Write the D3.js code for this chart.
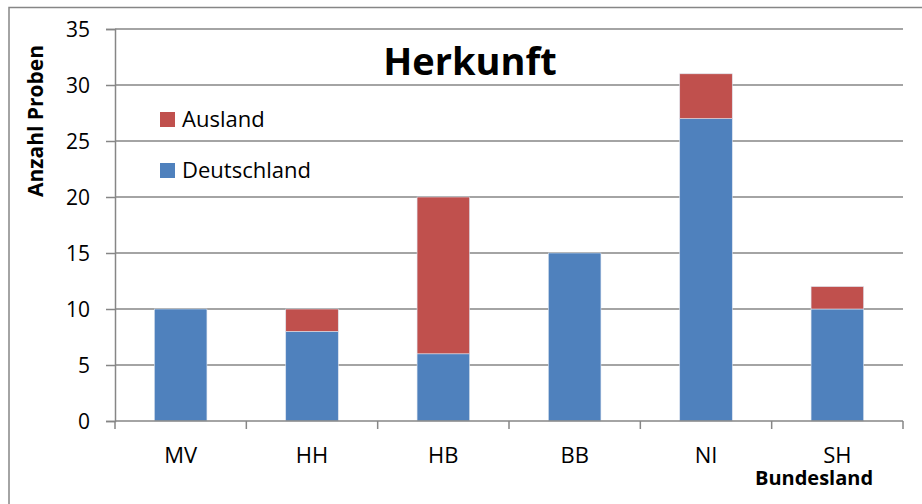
<!DOCTYPE html>
<html>
<head>
<meta charset="utf-8">
<script src="https://cdn.jsdelivr.net/npm/d3@7"></script>
<style>
  body { margin: 0; background: #fff; }
  svg { display: block; font-family: "Open Sans", "Noto Sans", sans-serif; }
</style>
</head>
<body>
<div id="chart"></div>
<script>
const categories = ['MV', 'HH', 'HB', 'BB', 'NI', 'SH'];
const deutschland = [10, 8, 6, 15, 27, 10];
const ausland = [0, 2, 14, 0, 4, 2];
const seriesNames = ['Deutschland', 'Ausland'];
const seriesColors = ['#4F81BD', '#C0504D'];
const yTicks = [0, 5, 10, 15, 20, 25, 30, 35];

const width = 922, height = 504;
const margin = { top: 29, right: 19, bottom: 83, left: 115 };

const svg = d3.select('#chart').append('svg')
  .attr('width', width)
  .attr('height', height);

// outer frame (only top and left visible in the shot)
svg.append('rect')
  .attr('x', 9).attr('y', 7.5)
  .attr('width', width).attr('height', height)
  .attr('fill', 'none')
  .attr('stroke', '#868686')
  .attr('stroke-width', 1.5);

const x = d3.scaleBand()
  .domain(categories)
  .range([margin.left, width - margin.right])
  .paddingInner(0.6)
  .paddingOuter(0.3);

const y = d3.scaleLinear()
  .domain([0, 35])
  .range([height - margin.bottom, margin.top]);

// gridlines
svg.append('g')
  .selectAll('line')
  .data(yTicks.filter(d => d > 0))
  .join('line')
  .attr('x1', margin.left).attr('x2', width - margin.right)
  .attr('y1', d => y(d)).attr('y2', d => y(d))
  .attr('stroke', '#868686')
  .attr('stroke-width', 1.5);

const rows = categories.map((c, i) => ({ cat: c, Deutschland: deutschland[i], Ausland: ausland[i] }));
const stacked = d3.stack().keys(seriesNames)(rows);

svg.append('g')
  .selectAll('g')
  .data(stacked)
  .join('g')
  .attr('fill', (d, i) => seriesColors[i])
  .selectAll('rect')
  .data(d => d.filter(s => s[1] - s[0] > 0))
  .join('rect')
  .attr('x', d => x(d.data.cat))
  .attr('width', x.bandwidth())
  .attr('y', d => y(d[1]))
  .attr('height', d => y(d[0]) - y(d[1]))
  .attr('stroke', '#dbe3ef')
  .attr('stroke-width', 0.6);

// y axis
const yAxis = svg.append('g')
  .attr('transform', `translate(${margin.left},0)`)
  .call(d3.axisLeft(y).tickValues(yTicks).tickSize(9).tickPadding(16));
yAxis.attr('font-family', null).attr('font-size', null);
yAxis.selectAll('text').style('font-size', '21px').attr('fill', '#000').attr('dy', '0.34em');
yAxis.selectAll('line').attr('stroke', '#868686').attr('stroke-width', 1.5);
yAxis.select('.domain').attr('stroke', '#868686').attr('stroke-width', 1.5);

// x axis: ticks between categories
const boundaries = d3.range(categories.length + 1).map(i => margin.left + i * (width - margin.left - margin.right) / categories.length);
const xg = svg.append('g');
xg.append('line')
  .attr('x1', margin.left).attr('x2', width - margin.right)
  .attr('y1', y(0)).attr('y2', y(0))
  .attr('stroke', '#868686').attr('stroke-width', 1.5);
xg.selectAll('line.tick')
  .data(boundaries)
  .join('line')
  .attr('class', 'tick')
  .attr('x1', d => d).attr('x2', d => d)
  .attr('y1', y(0)).attr('y2', y(0) + 8)
  .attr('stroke', '#868686').attr('stroke-width', 1.5);
xg.selectAll('text')
  .data(categories)
  .join('text')
  .attr('x', d => x(d) + x.bandwidth() / 2)
  .attr('y', y(0) + 42)
  .attr('text-anchor', 'middle')
  .style('font-size', '22px')
  .text(d => d);

// axis titles
svg.append('text')
  .attr('x', 814).attr('y', 485)
  .attr('text-anchor', 'middle')
  .style('font-size', '20px')
  .attr('font-weight', 'bold')
  .text('Bundesland');

svg.append('text')
  .attr('transform', 'translate(43,121) rotate(-90)')
  .attr('text-anchor', 'middle')
  .style('font-size', '21px')
  .attr('font-weight', 'bold')
  .text('Anzahl Proben');

// title
svg.append('text')
  .attr('x', 470).attr('y', 75)
  .attr('text-anchor', 'middle')
  .style('font-size', '38px')
  .attr('font-weight', 'bold')
  .text('Herkunft');

// legend
const legendItems = [
  { name: 'Ausland', color: seriesColors[1], y: 119 },
  { name: 'Deutschland', color: seriesColors[0], y: 170 }
];
const lg = svg.append('g').selectAll('g').data(legendItems).join('g')
  .attr('transform', d => `translate(160,${d.y})`);
lg.append('rect')
  .attr('x', 0).attr('y', -7)
  .attr('width', 15).attr('height', 15)
  .attr('fill', d => d.color);
lg.append('text')
  .attr('x', 22).attr('y', 8)
  .style('font-size', '22px')
  .text(d => d.name);
</script>
</body>
</html>
